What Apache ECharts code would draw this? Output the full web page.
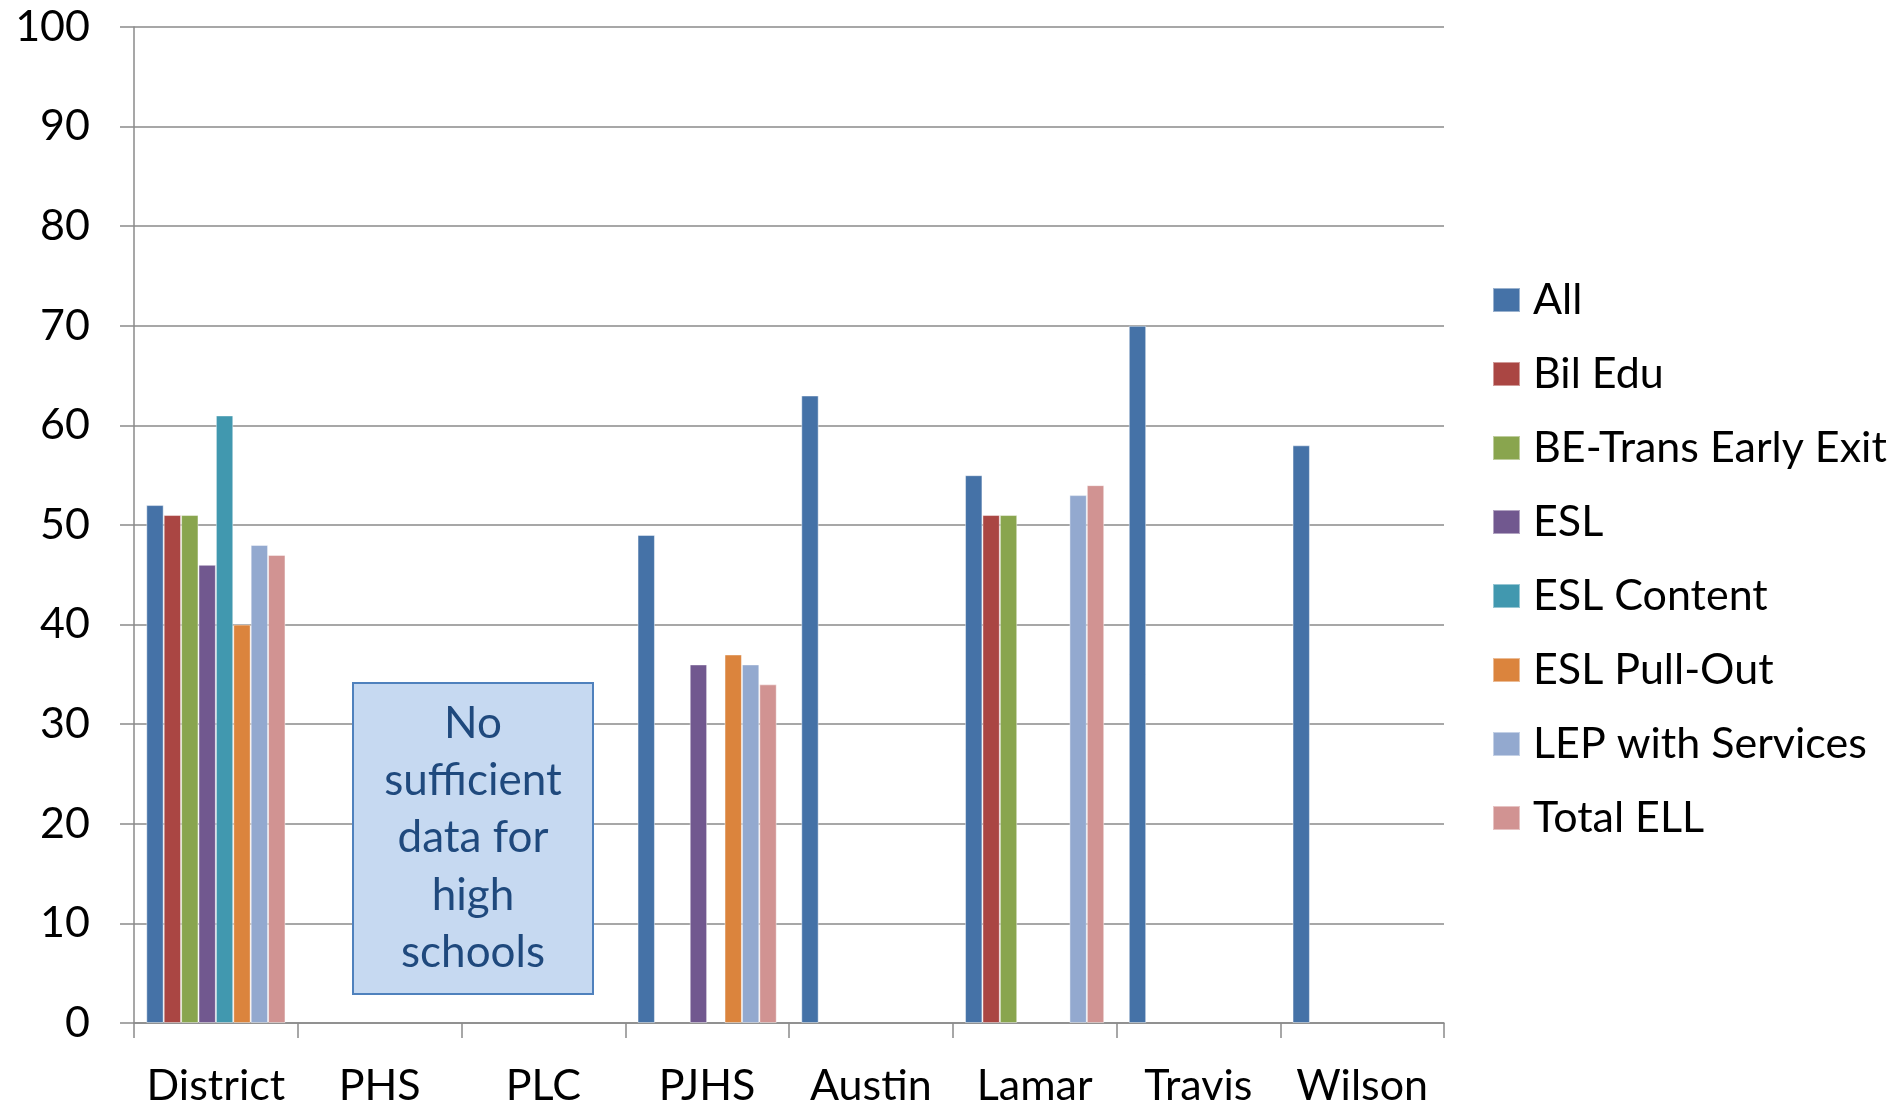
<!DOCTYPE html>
<html>
<head>
<meta charset="utf-8">
<title>Schools by program</title>
<script src="https://cdn.jsdelivr.net/npm/echarts@6/dist/echarts.min.js"></script>
<style>
  html, body { margin: 0; padding: 0; background: #ffffff; }
  #chart { width: 1903px; height: 1108px; }
</style>
</head>
<body>
<div id="chart"></div>
<script>
// Campuses along the x axis
const categories = ['District', 'PHS', 'PLC', 'PJHS', 'Austin', 'Lamar', 'Travis', 'Wilson'];

// One array per program group (null = no bar)
const allStudents      = [52, null, null, 49, 63, 55, 70, 58];
const bilEdu           = [51, null, null, null, null, 51, null, null];
const beTransEarlyExit = [51, null, null, null, null, 51, null, null];
const esl              = [46, null, null, 36, null, null, null, null];
const eslContent       = [61, null, null, null, null, null, null, null];
const eslPullOut       = [40, null, null, 37, null, null, null, null];
const lepWithServices  = [48, null, null, 36, null, 53, null, null];
const totalEll         = [47, null, null, 34, null, 54, null, null];

const seriesNames = ['All', 'Bil Edu', 'BE-Trans Early Exit', 'ESL', 'ESL Content', 'ESL Pull-Out', 'LEP with Services', 'Total ELL'];
const seriesData = [allStudents, bilEdu, beTransEarlyExit, esl, eslContent, eslPullOut, lepWithServices, totalEll];
const colors = ['#4572A7', '#AA4643', '#89A54E', '#71588F', '#4198AF', '#DB843D', '#93A9CF', '#D19392'];

const yTicks = [0, 10, 20, 30, 40, 50, 60, 70, 80, 90, 100];

const noteLines = ['No', 'sufficient', 'data for', 'high', 'schools'];

const FONT = 'Lato, "Open Sans", sans-serif';
const AXIS_GRAY = '#8a8a8a';

const chart = echarts.init(document.getElementById('chart'), null, { renderer: 'canvas' });

const option = {
  animation: false,
  backgroundColor: '#ffffff',
  color: colors,
  grid: { left: 134, top: 27, width: 1310, height: 997, containLabel: false },
  legend: {
    orient: 'vertical',
    left: 1487,
    top: 270,
    itemWidth: 27,
    itemHeight: 24,
    itemGap: 24,
    icon: 'rect',
    data: seriesNames,
    textStyle: { fontFamily: FONT, fontSize: 43, color: '#000', lineHeight: 50, padding: [0, 0, 0, 8] }
  },
  xAxis: {
    type: 'category',
    data: categories,
    boundaryGap: true,
    axisLine: { lineStyle: { color: AXIS_GRAY, width: 1.5 } },
    axisTick: { show: true, interval: 0, length: 15, alignWithLabel: false, lineStyle: { color: AXIS_GRAY, width: 1.5 } },
    axisLabel: { interval: 0, fontFamily: FONT, fontSize: 43, color: '#000', margin: 42 }
  },
  yAxis: {
    type: 'value',
    min: yTicks[0],
    max: yTicks[yTicks.length - 1],
    interval: yTicks[1] - yTicks[0],
    axisLine: { show: true, lineStyle: { color: AXIS_GRAY, width: 1.5 } },
    axisTick: { show: true, length: 14, lineStyle: { color: AXIS_GRAY, width: 1.5 } },
    splitLine: { show: true, lineStyle: { color: AXIS_GRAY, width: 1.5 } },
    axisLabel: { fontFamily: FONT, fontSize: 43, color: '#000', margin: 44 }
  },
  series: seriesNames.map((name, i) => ({
    name: name,
    type: 'bar',
    data: seriesData[i],
    barGap: '0%',
    barCategoryGap: '15%',
    itemStyle: { color: colors[i], borderColor: 'rgba(255,255,255,0.45)', borderWidth: 1 }
  }))
};

chart.setOption(option);

// Note box over the high-school campuses
const box = { x: 352, y: 682, w: 240, h: 311 };
chart.setOption({
  graphic: [{
    type: 'group',
    left: box.x,
    top: box.y,
    children: [
      {
        type: 'rect',
        shape: { x: 0, y: 0, width: box.w, height: box.h },
        style: { fill: '#C6D9F1', stroke: '#4F81BD', lineWidth: 2 }
      },
      {
        type: 'text',
        x: box.w / 2,
        y: 12,
        style: {
          text: noteLines.join('\n'),
          fontFamily: FONT,
          fontSize: 44,
          lineHeight: 57.3,
          fill: '#1F497D',
          align: 'center',
          verticalAlign: 'top'
        }
      }
    ]
  }]
});
</script>
</body>
</html>
